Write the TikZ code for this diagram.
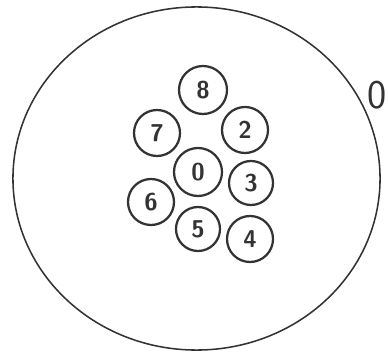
\documentclass[tikz,border=0pt]{standalone}
\usepackage{tikz}
\usetikzlibrary{shapes.geometric}
\definecolor{ink}{HTML}{333333}
\tikzset{
  ball/.style={
    circle,
    draw=ink,
    line width=1.6pt,
    minimum size=1.2cm,
    inner sep=0pt,
    text=ink,
    font=\LARGE\sffamily\bfseries
  },
  rim/.style={
    ellipse,
    draw=ink,
    line width=1.1pt,
    inner sep=0pt
  }
}
\begin{document}
\begin{tikzpicture}[x=0.025cm,y=-0.025cm]
  \useasboundingbox (0,0) rectangle (388,354);

  \node[rim,minimum width=9.175cm,minimum height=8.575cm] (outer) at (196.5,178.5) {};

  \node[ball] (n8) at (203, 90) {8};
  \node[ball,minimum size=1.15cm] (n7) at (157,133) {7};
  \node[ball,minimum size=1.15cm] (n2) at (245,130) {2};
  \node[ball,minimum size=1.2cm]  (n0) at (198,172) {0};
  \node[ball,minimum size=1.1cm]  (n3) at (251,183) {3};
  \node[ball,minimum size=1.15cm] (n6) at (151,202) {6};
  \node[ball,minimum size=1.1cm]  (n5) at (198,229) {5};
  \node[ball,minimum size=1.15cm] (n4) at (250,239) {4};

  \node[text=ink,font=\fontsize{29}{29}\selectfont\sffamily,inner sep=0pt] (tag) at (377,95) {0};
\end{tikzpicture}
\end{document}
